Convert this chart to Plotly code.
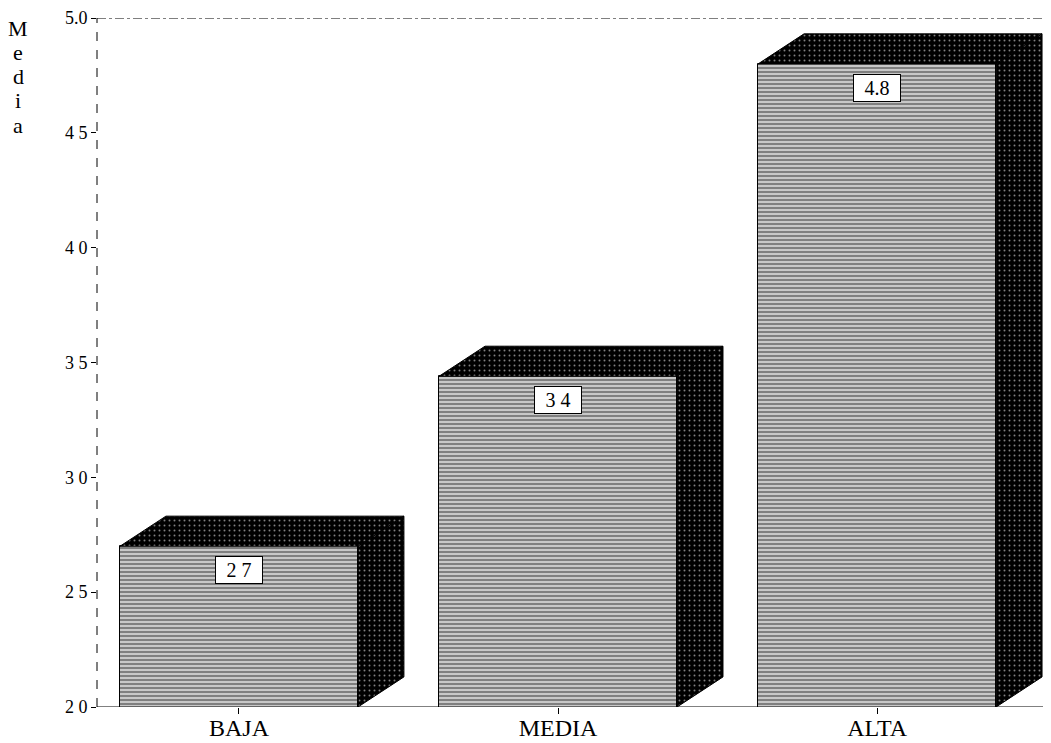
import plotly.graph_objects as go

categories = ["BAJA", "MEDIA", "ALTA"]
values = [2.7, 3.44, 4.8]
value_labels = ["2 7", "3 4", "4.8"]
ytick_vals = [2.0, 2.5, 3.0, 3.5, 4.0, 4.5, 5.0]
ytick_text = ["2 0", "2 5", "3 0", "3 5", "4 0", "4 5", "5.0"]
title_letters = ["M", "e", "d", "i", "a"]

BAR_W = 0.746
DX = 0.144
DY = 0.131
YMIN, YMAX = 2.0, 5.0
FONT = "Liberation Serif, Times New Roman, serif"

xs = list(range(len(categories)))

fig = go.Figure()

# front faces
fig.add_trace(go.Bar(
    x=xs, y=values, width=BAR_W,
    marker=dict(color="white", line=dict(color="black", width=1),
                pattern=dict(shape="-", fgcolor="black", bgcolor="white",
                             size=4, solidity=0.72)),
    hoverinfo="skip", showlegend=False,
))

# top and side faces (3D effect) computed from the data
top_x, top_y, side_x, side_y = [], [], [], []
for c, v in zip(xs, values):
    l, r = c - BAR_W / 2, c + BAR_W / 2
    top_x += [l, l + DX, r + DX, r, l, None]
    top_y += [v, v + DY, v + DY, v, v, None]
    side_x += [r, r + DX, r + DX, r, r, None]
    side_y += [v, v + DY, YMIN + DY, YMIN, v, None]

for px, py in [(top_x, top_y), (side_x, side_y)]:
    fig.add_trace(go.Scatter(
        x=px, y=py, mode="lines", fill="toself",
        fillcolor="black",
        fillpattern=dict(shape=".", bgcolor="black", fgcolor="white",
                         size=5, solidity=0.12),
        line=dict(color="black", width=1),
        hoverinfo="skip", showlegend=False,
    ))

# value labels
for c, v, t in zip(xs, values, value_labels):
    fig.add_annotation(x=c, y=v, xref="x", yref="y", text=t, showarrow=False,
                       yshift=-24, width=42, height=22,
                       bgcolor="white", bordercolor="black",
                       borderwidth=1, borderpad=2,
                       font=dict(family=FONT, size=20, color="black"))

# y title stacked letters
for i, ch in enumerate(title_letters):
    fig.add_annotation(x=-0.083, y=1.0, xref="paper", yref="paper",
                       xanchor="center", yanchor="middle", showarrow=False,
                       yshift=-10 - 24.3 * i, text=ch,
                       font=dict(family=FONT, size=22, color="black"))

# frame lines
fig.add_shape(type="line", xref="paper", yref="y", x0=0, x1=0, y0=YMIN, y1=YMAX,
              line=dict(color="black", width=1, dash="dash"))
fig.add_shape(type="line", xref="paper", yref="y", x0=0, x1=1, y0=YMAX, y1=YMAX,
              line=dict(color="black", width=1, dash="dashdot"))
fig.add_shape(type="line", xref="paper", yref="y", x0=0, x1=1, y0=YMIN, y1=YMIN,
              line=dict(color="black", width=1))

fig.update_layout(
    width=1043, height=735,
    margin=dict(l=89, r=8, t=10, b=36, autoexpand=False),
    paper_bgcolor="white", plot_bgcolor="white",
    bargap=0,
    xaxis=dict(range=[-0.445, 2.52], tickmode="array", tickvals=xs,
               ticktext=categories, showgrid=False, zeroline=False,
               showline=False, ticks="outside", ticklen=6, tickcolor="black",
               automargin=False, ticklabelstandoff=-7,
               tickfont=dict(family=FONT, size=24, color="black")),
    yaxis=dict(range=[YMIN, YMAX], tickmode="array", tickvals=ytick_vals,
               ticktext=ytick_text, showgrid=False, zeroline=False,
               showline=False, ticks="outside", ticklen=5, tickcolor="black",
               automargin=False,
               tickfont=dict(family=FONT, size=18, color="black")),
)

fig.write_html("out.html")
